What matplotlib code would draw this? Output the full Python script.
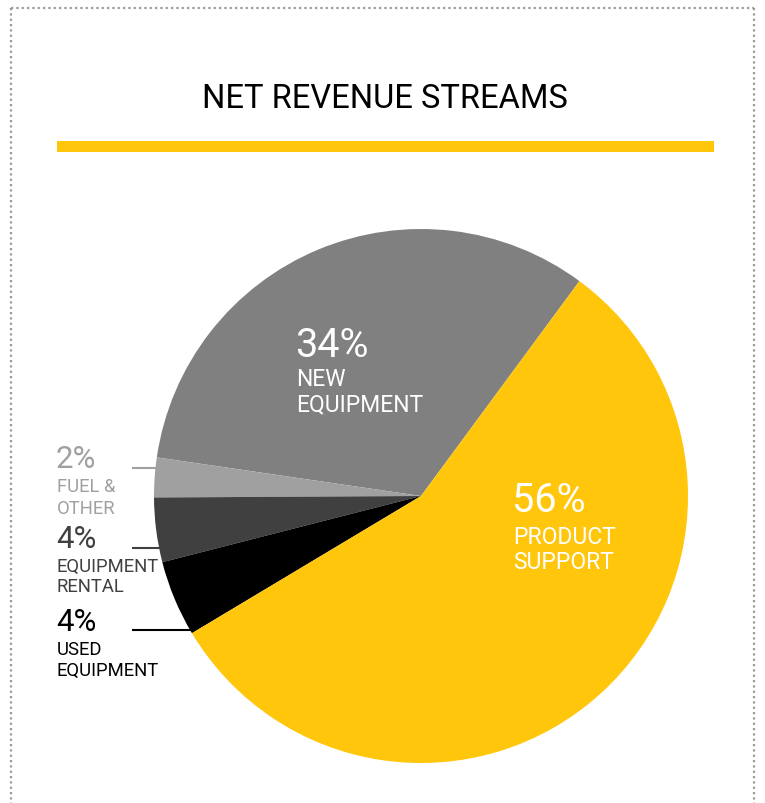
import matplotlib
matplotlib.use("Agg")
import numpy as np
import matplotlib.pyplot as plt
from matplotlib.lines import Line2D
from matplotlib.patches import Rectangle

# Data (counter-clockwise from the top-right edge of the yellow slice)
categories = ["NEW EQUIPMENT", "FUEL & OTHER", "EQUIPMENT RENTAL", "USED EQUIPMENT", "PRODUCT SUPPORT"]
shares = [32.8, 2.4, 3.9, 4.6, 56.3]
pct_labels = ["34%", "2%", "4%", "4%", "56%"]
name_lines = [["NEW", "EQUIPMENT"], ["FUEL &", "OTHER"], ["EQUIPMENT", "RENTAL"],
              ["USED", "EQUIPMENT"], ["PRODUCT", "SUPPORT"]]
colors = ["#808080", "#a0a0a0", "#404040", "#000000", "#ffc60b"]
text_colors = ["white", "#a0a0a0", "#404040", "#000000", "white"]

W, H = 765, 804
plt.rcParams["font.family"] = ["Roboto", "DejaVu Sans"]

fig = plt.figure(figsize=(W / 100, H / 100), dpi=100)

def fx(x):
    return x / W

def fy(y):
    return 1 - y / H

# pie geometry in pixels
cx, cy, r = 421, 497, 267
ax = fig.add_axes([fx(cx - r), fy(cy + r), 2 * r / W, 2 * r / H])
ax.pie(shares, colors=colors, startangle=53.6, counterclock=True, radius=1,
       wedgeprops=dict(linewidth=0))
ax.set_xlim(-1, 1)
ax.set_ylim(-1, 1)
ax.set_aspect("equal")
ax.axis("off")

# dotted frame (open at bottom)
dot = dict(color="#9a9a9a", linewidth=1.6, linestyle=(0, (1, 1.4)), transform=fig.transFigure)
fig.add_artist(Line2D([fx(11), fx(754)], [fy(9), fy(9)], **dot))
fig.add_artist(Line2D([fx(11), fx(11)], [fy(9), fy(804)], **dot))
fig.add_artist(Line2D([fx(754), fx(754)], [fy(9), fy(804)], **dot))

# title and yellow bar
fig.text(fx(385), fy(108.5), "NET REVENUE STREAMS", ha="center", va="baseline",
         fontsize=23.5, color="black")
fig.add_artist(Rectangle((fx(57), fy(153)), fx(714) - fx(57), fy(142) - fy(153),
                         transform=fig.transFigure, facecolor="#ffc60b", edgecolor="none"))

# label positions: (x, baseline of pct, baselines of name lines, pct size, name size)
label_pos = [
    (295, 357, [386, 411], 28.5, 16.5),
    (56, 468.5, [492.5, 513.5], 22.5, 13.3),
    (56, 548.5, [571.5, 592.5], 22.5, 13.3),
    (56, 631.5, [655, 676], 22.5, 13.3),
    (512, 512, [543.5, 569], 28.5, 16.5),
]

for i, (x, yb, ylines, s1, s2) in enumerate(label_pos):
    fig.text(fx(x), fy(yb), pct_labels[i], ha="left", va="baseline",
             fontsize=s1, color=text_colors[i])
    for line, yl in zip(name_lines[i], ylines):
        fig.text(fx(x + 1), fy(yl), line, ha="left", va="baseline",
                 fontsize=s2, color=text_colors[i])

# leader lines from the small labels to the pie edge
for i, yl in [(1, 468.5), (2, 548.5), (3, 631)]:
    yd = (cy - yl) / r
    x_end = -np.sqrt(1 - yd ** 2)
    x_start = (132 - cx) / r
    ax.plot([x_start, x_end + 0.01], [yd, yd], color=colors[i], linewidth=1.5,
            clip_on=False, solid_capstyle="butt", zorder=0)

fig.savefig("out.png", dpi=100)
